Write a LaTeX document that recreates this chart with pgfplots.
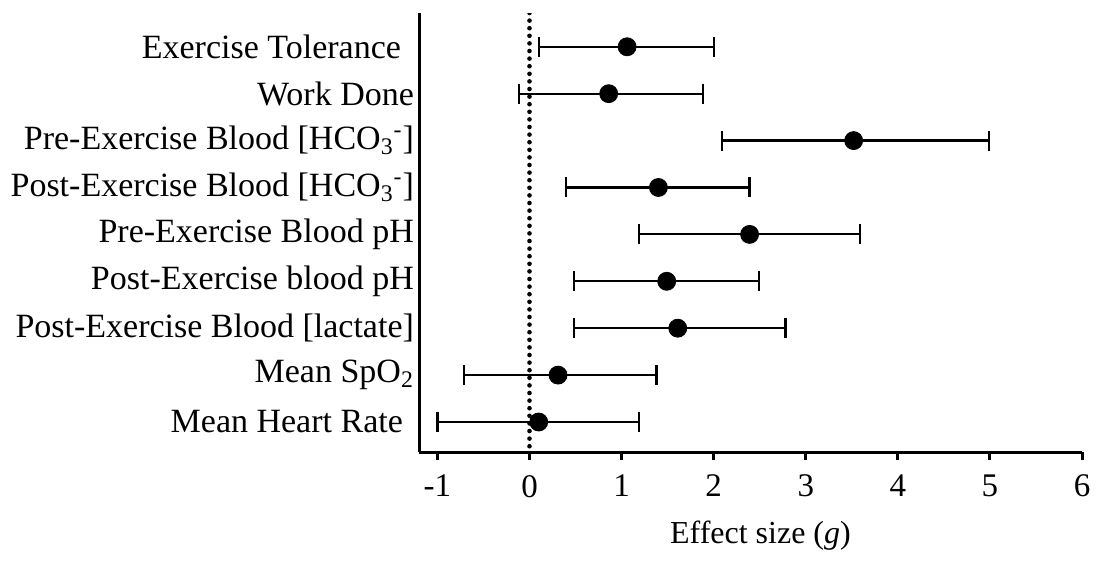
\documentclass[border=0pt]{standalone}
\usepackage{fontspec}
\setmainfont{Liberation Serif}
\usepackage{pgfplots}
\pgfplotsset{compat=1.18}

\begin{document}
\begin{tikzpicture}
\begin{axis}[
    scale only axis,
    width=331.5pt, height=219.5pt,
    xmin=-1.2, xmax=6,
    ymin=-0.64, ymax=8.72,
    axis x line*=bottom,
    axis y line*=left,
    axis line style={line width=1.5pt, -},
    xtick={-1,0,...,6},
    ytick={0,...,8},
    yticklabels={Mean Heart Rate\kern5.5pt, Mean SpO\textsubscript{2},
        Post-Exercise Blood [lactate], Post-Exercise blood pH,
        Pre-Exercise Blood pH,
        Post-Exercise Blood [HCO\textsubscript{3}\textsuperscript{-}],
        Pre-Exercise Blood [HCO\textsubscript{3}\textsuperscript{-}],
        Work Done, Exercise Tolerance\kern6.5pt},
    y tick style={draw=none},
    x tick style={line width=1.5pt, black},
    tick align=outside,
    major tick length=4pt,
    /pgf/number format/assume math mode=true,
    yticklabel style={font=\fontsize{17}{19}\selectfont, xshift=5pt},
    xticklabel style={font=\fontsize{16.5}{19}\selectfont, yshift=-4pt},
    xlabel={Effect size (\textit{g})},
    xlabel style={font=\fontsize{16}{18}\selectfont,
        at={(axis description cs:0.515,0)}, anchor=center, yshift=-42pt},
]
% reference line at zero
\addplot[black, line width=2.3pt, line cap=round, dash pattern=on 0pt off 3.8pt]
    coordinates {(0,8.72) (0,-0.64)};
% effect sizes with 95% CI
\addplot[only marks, mark=*, black, mark size=4.5pt,
    error bars/.cd, x dir=both, x explicit, error mark=|,
    error bar style={line width=1.1pt, black},
    error mark options={mark size=5pt, line width=1.1pt, black}]
coordinates {
    (1.06,8) += (0.94,0) -= (0.96,0)
    (0.86,7) += (1.02,0) -= (0.97,0)
    (3.52,6) += (1.47,0) -= (1.43,0)
    (1.40,5) += (0.99,0) -= (1.00,0)
    (2.39,4) += (1.20,0) -= (1.20,0)
    (1.49,3) += (1.00,0) -= (1.01,0)
    (1.61,2) += (1.17,0) -= (1.13,0)
    (0.31,1) += (1.07,0) -= (1.02,0)
    (0.10,0) += (1.09,0) -= (1.10,0)
};
\coordinate (SW) at (rel axis cs:0,0);
\coordinate (NE) at (rel axis cs:1,1);
\end{axis}
\pgfresetboundingbox
\path ([shift={(-209.5pt,-56.5pt)}]SW) rectangle ([shift={(7pt,6.5pt)}]NE);
\end{tikzpicture}
\end{document}
